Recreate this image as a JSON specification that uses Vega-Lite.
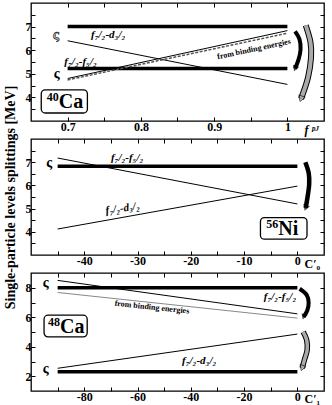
{
"$schema": "https://vega.github.io/schema/vega-lite/v6.json",
"padding": {"left": 2, "top": 1, "right": 2, "bottom": 0},
"spacing": 18,
"bounds": "flush",
"resolve": {"scale": {"x": "independent", "y": "independent"}},
"config": {
  "font": "Liberation Serif",
  "view": {"stroke": "black", "strokeWidth": 1.3},
  "axis": {"labelOverlap": false, "labelFlush": false, "domain": false, "grid": false, "tickColor": "black", "tickWidth": 1, "tickSize": -4, "labelFont": "Liberation Serif", "labelFontWeight": "bold", "labelFontSize": 12, "labelColor": "black", "labelPadding": 4, "titleFont": "Liberation Serif", "titleFontWeight": "bold", "titleColor": "black"}
},
"datasets": {
  "lines": [
    {"p": "Ca40", "s": "exp1", "k": "thick", "x": 0.7, "y": 7.0}, {"p": "Ca40", "s": "exp1", "k": "thick", "x": 1.0, "y": 7.0},
    {"p": "Ca40", "s": "exp2", "k": "thick", "x": 0.7, "y": 5.22}, {"p": "Ca40", "s": "exp2", "k": "thick", "x": 1.0, "y": 5.22},
    {"p": "Ca40", "s": "fd", "k": "thin", "x": 0.7, "y": 6.4}, {"p": "Ca40", "s": "fd", "k": "thin", "x": 1.0, "y": 4.55},
    {"p": "Ca40", "s": "ff", "k": "thin", "x": 0.7, "y": 4.8}, {"p": "Ca40", "s": "ff", "k": "thin", "x": 1.0, "y": 6.83},
    {"p": "Ca40", "s": "be", "k": "dash", "x": 0.7, "y": 4.74}, {"p": "Ca40", "s": "be", "k": "dash", "x": 1.0, "y": 6.72},
    {"p": "Ni56", "s": "exp1", "k": "thick", "x": -45, "y": 6.83}, {"p": "Ni56", "s": "exp1", "k": "thick", "x": 0, "y": 6.83},
    {"p": "Ni56", "s": "ff", "k": "thin", "x": -45, "y": 7.18}, {"p": "Ni56", "s": "ff", "k": "thin", "x": 0, "y": 5.2},
    {"p": "Ni56", "s": "fd", "k": "thin", "x": -45, "y": 4.12}, {"p": "Ni56", "s": "fd", "k": "thin", "x": 0, "y": 5.97},
    {"p": "Ca48", "s": "exp1", "k": "thick", "x": -90, "y": 8.0}, {"p": "Ca48", "s": "exp1", "k": "thick", "x": 0, "y": 8.0},
    {"p": "Ca48", "s": "exp2", "k": "thick", "x": -90, "y": 2.31}, {"p": "Ca48", "s": "exp2", "k": "thick", "x": 0, "y": 2.31},
    {"p": "Ca48", "s": "ff", "k": "thin", "x": -90, "y": 8.5}, {"p": "Ca48", "s": "ff", "k": "thin", "x": 0, "y": 6.23},
    {"p": "Ca48", "s": "be", "k": "gray", "x": -90, "y": 7.68}, {"p": "Ca48", "s": "be", "k": "gray", "x": 0, "y": 5.94},
    {"p": "Ca48", "s": "fd", "k": "thin", "x": -90, "y": 2.54}, {"p": "Ca48", "s": "fd", "k": "thin", "x": 0, "y": 4.86}
  ],
  "labels": [
    {"p": "Ca40", "id": "fd", "x": 0.732, "y": 6.63, "t": "f₇/₂-d₃/₂"},
    {"p": "Ca40", "id": "ff", "x": 0.6955, "y": 5.48, "t": "f₇/₂-f₅/₂"},
    {"p": "Ca40", "id": "be", "x": 0.9545, "y": 6.03, "t": "from binding energies"},
    {"p": "Ni56", "id": "ff", "x": -35.0, "y": 7.19, "t": "f₇/₂-f₅/₂"},
    {"p": "Ni56", "id": "fd", "x": -36.0, "y": 4.9, "t": "f₇/₂-d₃/₂"},
    {"p": "Ca48", "id": "ff", "x": -12.6, "y": 7.37, "t": "f₇/₂-f₅/₂"},
    {"p": "Ca48", "id": "fd", "x": -43.3, "y": 3.05, "t": "f₇/₂-d₃/₂"},
    {"p": "Ca48", "id": "be", "x": -54.6, "y": 6.65, "t": "from binding energies"}
  ],
  "boxes": [
    {"p": "Ca40", "a": "40", "el": "Ca", "x1": 0.664, "x2": 0.727, "y1": 4.32, "y2": 3.34, "xc": 0.688, "yc": 3.83},
    {"p": "Ni56", "a": "56", "el": "Ni", "x1": -6.93, "x2": 1.81, "y1": 4.61, "y2": 3.68, "xc": -3.6, "yc": 4.15},
    {"p": "Ca48", "a": "48", "el": "Ca", "x1": -95.1, "x2": -78.9, "y1": 6.14, "y2": 4.67, "xc": -89.1, "yc": 5.4}
  ],
  "arrows": [
    {"p": "Ca40", "id": "dark", "o": 1, "x": 1.0105, "y": 6.80}, {"p": "Ca40", "id": "dark", "o": 2, "x": 1.0166, "y": 6.46}, {"p": "Ca40", "id": "dark", "o": 3, "x": 1.018, "y": 6.03}, {"p": "Ca40", "id": "dark", "o": 4, "x": 1.0153, "y": 5.61}, {"p": "Ca40", "id": "dark", "o": 5, "x": 1.0105, "y": 5.22},
    {"p": "Ca40", "id": "light", "o": 1, "x": 1.0251, "y": 7.05}, {"p": "Ca40", "id": "light", "o": 2, "x": 1.0316, "y": 6.33}, {"p": "Ca40", "id": "light", "o": 3, "x": 1.0323, "y": 5.69}, {"p": "Ca40", "id": "light", "o": 4, "x": 1.0282, "y": 4.84}, {"p": "Ca40", "id": "light", "o": 5, "x": 1.0187, "y": 3.94},
    {"p": "Ni56", "id": "dark", "o": 1, "x": 1.5, "y": 7.0}, {"p": "Ni56", "id": "dark", "o": 2, "x": 2.13, "y": 6.53}, {"p": "Ni56", "id": "dark", "o": 3, "x": 2.22, "y": 6.06}, {"p": "Ni56", "id": "dark", "o": 4, "x": 1.94, "y": 5.54}, {"p": "Ni56", "id": "dark", "o": 5, "x": 1.56, "y": 5.03},
    {"p": "Ca48", "id": "dark", "o": 1, "x": 0.86, "y": 7.93}, {"p": "Ca48", "id": "dark", "o": 2, "x": 3.49, "y": 7.52}, {"p": "Ca48", "id": "dark", "o": 3, "x": 4.24, "y": 6.98}, {"p": "Ca48", "id": "dark", "o": 4, "x": 3.68, "y": 6.44}, {"p": "Ca48", "id": "dark", "o": 5, "x": 2.36, "y": 6.03},
    {"p": "Ca48", "id": "light", "o": 1, "x": 2.17, "y": 5.01}, {"p": "Ca48", "id": "light", "o": 2, "x": 3.49, "y": 4.46}, {"p": "Ca48", "id": "light", "o": 3, "x": 3.68, "y": 3.78}, {"p": "Ca48", "id": "light", "o": 4, "x": 2.74, "y": 3.17}, {"p": "Ca48", "id": "light", "o": 5, "x": 1.80, "y": 2.56}
  ],
  "hooks": [
    {"p": "Ca40", "id": "light", "x": 0.684, "y": 6.69},
    {"p": "Ca40", "id": "dark", "x": 0.685, "y": 5.01},
    {"p": "Ni56", "id": "dark", "x": -46.6, "y": 6.98},
    {"p": "Ca48", "id": "dark", "x": -94.5, "y": 8.29},
    {"p": "Ca48", "id": "dark", "x": -94.5, "y": 2.47}
  ]
},
"vconcat": [
  {
    "width": 293, "height": 118,
    "resolve": {"axis": {"x": "independent", "y": "independent"}},
    "layer": [
      {"data": {"name": "lines"}, "transform": [{"filter": "datum.p=='Ca40' && datum.k=='thick'"}],
       "mark": {"type": "line", "color": "black", "strokeWidth": 3.5},
       "encoding": {
         "x": {"field": "x", "type": "quantitative", "scale": {"domain": [0.65, 1.05], "nice": false, "zero": false},
               "axis": {"orient": "bottom", "values": [0.7, 0.75, 0.8, 0.85, 0.9, 0.95, 1.0], "labelExpr": "round(datum.value*100)%10==0 ? toString(datum.value) : ''", "title": "f ᵖᴶ", "titleX": 273, "titleY": 8, "titleAlign": "left", "titleBaseline": "middle", "titleAngle": 0, "titleFontStyle": "italic", "titleFontSize": 12, "titlePadding": 0}},
         "y": {"field": "y", "type": "quantitative", "scale": {"domain": [3, 8], "nice": false, "zero": false},
               "axis": {"orient": "left", "values": [3.5, 4, 4.5, 5, 5.5, 6, 6.5, 7, 7.5], "labelExpr": "datum.value%1==0 ? toString(datum.value) : ''", "title": null}},
         "detail": {"field": "s"}
       }},
      {"data": {"name": "lines"}, "transform": [{"filter": "datum.p=='Ca40' && datum.k=='thin'"}],
       "mark": {"type": "line", "color": "black", "strokeWidth": 1},
       "encoding": {"x": {"field": "x", "type": "quantitative", "axis": null}, "y": {"field": "y", "type": "quantitative", "axis": null}, "detail": {"field": "s"}}},
      {"data": {"name": "lines"}, "transform": [{"filter": "datum.p=='Ca40' && datum.k=='dash'"}],
       "mark": {"type": "line", "color": "#555555", "strokeWidth": 1.5, "strokeDash": [3, 1.5]},
       "encoding": {"x": {"field": "x", "type": "quantitative", "axis": null}, "y": {"field": "y", "type": "quantitative", "axis": null}, "detail": {"field": "s"}}},
      {"data": {"name": "boxes"}, "transform": [{"filter": "datum.p=='Ca40'"}],
       "mark": {"type": "rect", "fill": "white", "stroke": "black", "strokeWidth": 1.3, "cornerRadius": 4},
       "encoding": {
         "x": {"field": "x1", "type": "quantitative", "axis": {"orient": "top", "values": [0.7, 0.75, 0.8, 0.85, 0.9, 0.95, 1.0], "labels": false, "title": null}},
         "x2": {"field": "x2"},
         "y": {"field": "y1", "type": "quantitative", "axis": {"orient": "right", "values": [3.5, 4, 4.5, 5, 5.5, 6, 6.5, 7, 7.5], "labels": false, "title": null}},
         "y2": {"field": "y2"}
       }},
      {"data": {"name": "boxes"}, "transform": [{"filter": "datum.p=='Ca40'"}],
       "mark": {"type": "text", "fontWeight": "bold", "fontSize": 12, "align": "right", "baseline": "middle", "dy": -4},
       "encoding": {"x": {"field": "xc", "type": "quantitative", "axis": null}, "y": {"field": "yc", "type": "quantitative", "axis": null}, "text": {"field": "a"}}},
      {"data": {"name": "boxes"}, "transform": [{"filter": "datum.p=='Ca40'"}],
       "mark": {"type": "text", "fontWeight": "bold", "fontSize": 20, "align": "left", "baseline": "middle", "dy": 1},
       "encoding": {"x": {"field": "xc", "type": "quantitative", "axis": null}, "y": {"field": "yc", "type": "quantitative", "axis": null}, "text": {"field": "el"}}},
      {"data": {"name": "labels"}, "transform": [{"filter": "datum.p=='Ca40' && datum.id!='be'"}],
       "mark": {"type": "text", "fontWeight": "bold", "fontStyle": "italic", "fontSize": 11, "align": "left", "baseline": "middle"},
       "encoding": {"x": {"field": "x", "type": "quantitative", "axis": null}, "y": {"field": "y", "type": "quantitative", "axis": null}, "text": {"field": "t"}}},
      {"data": {"name": "labels"}, "transform": [{"filter": "datum.p=='Ca40' && datum.id=='be'"}],
       "mark": {"type": "text", "fontWeight": "bold", "fontSize": 8, "angle": -12, "align": "center", "baseline": "middle"},
       "encoding": {"x": {"field": "x", "type": "quantitative", "axis": null}, "y": {"field": "y", "type": "quantitative", "axis": null}, "text": {"field": "t"}}},
      {"data": {"name": "arrows"}, "transform": [{"filter": "datum.p=='Ca40' && datum.id=='dark'"}],
       "mark": {"type": "line", "color": "black", "strokeWidth": 4, "interpolate": "cardinal"},
       "encoding": {"x": {"field": "x", "type": "quantitative", "axis": null}, "y": {"field": "y", "type": "quantitative", "axis": null}, "order": {"field": "o"}}},
      {"data": {"name": "arrows"}, "transform": [{"filter": "datum.p=='Ca40' && datum.id=='light'"}],
       "mark": {"type": "line", "color": "black", "strokeWidth": 6, "interpolate": "cardinal"},
       "encoding": {"x": {"field": "x", "type": "quantitative", "axis": null}, "y": {"field": "y", "type": "quantitative", "axis": null}, "order": {"field": "o"}}},
      {"data": {"name": "arrows"}, "transform": [{"filter": "datum.p=='Ca40' && datum.id=='light'"}],
       "mark": {"type": "line", "color": "#aaaaaa", "strokeWidth": 4, "interpolate": "cardinal"},
       "encoding": {"x": {"field": "x", "type": "quantitative", "axis": null}, "y": {"field": "y", "type": "quantitative", "axis": null}, "order": {"field": "o"}}},
      {"data": {"name": "arrows"}, "transform": [{"filter": "datum.p=='Ca40' && datum.o==5 && datum.id=='dark'"}],
       "mark": {"type": "point", "shape": "triangle-down", "filled": true, "size": 45, "angle": 20, "color": "black"},
       "encoding": {"x": {"field": "x", "type": "quantitative", "axis": null}, "y": {"field": "y", "type": "quantitative", "axis": null}}},
      {"data": {"name": "arrows"}, "transform": [{"filter": "datum.p=='Ca40' && datum.o==5 && datum.id=='light'"}],
       "mark": {"type": "point", "shape": "triangle-down", "filled": true, "size": 45, "angle": 20, "fill": "#aaaaaa", "stroke": "black", "strokeWidth": 0.8},
       "encoding": {"x": {"field": "x", "type": "quantitative", "axis": null}, "y": {"field": "y", "type": "quantitative", "axis": null}}},
      {"data": {"name": "hooks"}, "transform": [{"filter": "datum.p=='Ca40' && datum.id=='dark'"}],
       "mark": {"type": "text", "text": "ς", "fontWeight": "bold", "fontSize": 14, "color": "black"},
       "encoding": {"x": {"field": "x", "type": "quantitative", "axis": null}, "y": {"field": "y", "type": "quantitative", "axis": null}}},
      {"data": {"name": "hooks"}, "transform": [{"filter": "datum.p=='Ca40' && datum.id=='light'"}],
       "mark": {"type": "text", "text": "ς", "fontWeight": "bold", "fontSize": 15, "fill": "#aaaaaa", "stroke": "black", "strokeWidth": 0.5},
       "encoding": {"x": {"field": "x", "type": "quantitative", "axis": null}, "y": {"field": "y", "type": "quantitative", "axis": null}}}
    ]
  },
  {
    "width": 293, "height": 116,
    "resolve": {"axis": {"x": "independent", "y": "independent"}},
    "layer": [
      {"data": {"name": "lines"}, "transform": [{"filter": "datum.p=='Ni56' && datum.k=='thick'"}],
       "mark": {"type": "line", "color": "black", "strokeWidth": 3.5},
       "encoding": {
         "x": {"field": "x", "type": "quantitative", "scale": {"domain": [-50, 5], "nice": false, "zero": false},
               "axis": {"orient": "bottom", "values": [-45, -40, -35, -30, -25, -20, -15, -10, -5, 0], "labelExpr": "datum.value%10==0 ? toString(datum.value) : ''", "title": "C′₀", "titleX": 273, "titleY": 8, "titleAlign": "left", "titleBaseline": "middle", "titleAngle": 0, "titleFontSize": 12, "titlePadding": 0}},
         "y": {"field": "y", "type": "quantitative", "scale": {"domain": [3, 8], "nice": false, "zero": false},
               "axis": {"orient": "left", "values": [3.5, 4, 4.5, 5, 5.5, 6, 6.5, 7, 7.5], "labelExpr": "datum.value%1==0 ? toString(datum.value) : ''", "title": "Single-particle levels splittings [MeV]", "titleFontSize": 14, "titlePadding": 8}},
         "detail": {"field": "s"}
       }},
      {"data": {"name": "lines"}, "transform": [{"filter": "datum.p=='Ni56' && datum.k=='thin'"}],
       "mark": {"type": "line", "color": "black", "strokeWidth": 1},
       "encoding": {"x": {"field": "x", "type": "quantitative", "axis": null}, "y": {"field": "y", "type": "quantitative", "axis": null}, "detail": {"field": "s"}}},
      {"data": {"name": "boxes"}, "transform": [{"filter": "datum.p=='Ni56'"}],
       "mark": {"type": "rect", "fill": "white", "stroke": "black", "strokeWidth": 1.3, "cornerRadius": 4},
       "encoding": {
         "x": {"field": "x1", "type": "quantitative", "axis": {"orient": "top", "values": [-45, -40, -35, -30, -25, -20, -15, -10, -5, 0], "labels": false, "title": null}},
         "x2": {"field": "x2"},
         "y": {"field": "y1", "type": "quantitative", "axis": {"orient": "right", "values": [3.5, 4, 4.5, 5, 5.5, 6, 6.5, 7, 7.5], "labels": false, "title": null}},
         "y2": {"field": "y2"}
       }},
      {"data": {"name": "boxes"}, "transform": [{"filter": "datum.p=='Ni56'"}],
       "mark": {"type": "text", "fontWeight": "bold", "fontSize": 12, "align": "right", "baseline": "middle", "dy": -4},
       "encoding": {"x": {"field": "xc", "type": "quantitative", "axis": null}, "y": {"field": "yc", "type": "quantitative", "axis": null}, "text": {"field": "a"}}},
      {"data": {"name": "boxes"}, "transform": [{"filter": "datum.p=='Ni56'"}],
       "mark": {"type": "text", "fontWeight": "bold", "fontSize": 20, "align": "left", "baseline": "middle", "dy": 1},
       "encoding": {"x": {"field": "xc", "type": "quantitative", "axis": null}, "y": {"field": "yc", "type": "quantitative", "axis": null}, "text": {"field": "el"}}},
      {"data": {"name": "labels"}, "transform": [{"filter": "datum.p=='Ni56' && datum.id=='ff'"}],
       "mark": {"type": "text", "fontWeight": "bold", "fontStyle": "italic", "fontSize": 11, "align": "left", "baseline": "middle"},
       "encoding": {"x": {"field": "x", "type": "quantitative", "axis": null}, "y": {"field": "y", "type": "quantitative", "axis": null}, "text": {"field": "t"}}},
      {"data": {"name": "labels"}, "transform": [{"filter": "datum.p=='Ni56' && datum.id=='fd'"}],
       "mark": {"type": "text", "fontWeight": "bold", "fontStyle": "italic", "fontSize": 11, "align": "left", "baseline": "middle", "angle": -8},
       "encoding": {"x": {"field": "x", "type": "quantitative", "axis": null}, "y": {"field": "y", "type": "quantitative", "axis": null}, "text": {"field": "t"}}},
      {"data": {"name": "arrows"}, "transform": [{"filter": "datum.p=='Ni56' && datum.id=='dark'"}],
       "mark": {"type": "line", "color": "black", "strokeWidth": 4.5, "interpolate": "cardinal"},
       "encoding": {"x": {"field": "x", "type": "quantitative", "axis": null}, "y": {"field": "y", "type": "quantitative", "axis": null}, "order": {"field": "o"}}},
      {"data": {"name": "arrows"}, "transform": [{"filter": "datum.p=='Ni56' && datum.o==5"}],
       "mark": {"type": "point", "shape": "triangle-down", "filled": true, "size": 50, "angle": 20, "color": "black"},
       "encoding": {"x": {"field": "x", "type": "quantitative", "axis": null}, "y": {"field": "y", "type": "quantitative", "axis": null}}},
      {"data": {"name": "hooks"}, "transform": [{"filter": "datum.p=='Ni56'"}],
       "mark": {"type": "text", "text": "ς", "fontWeight": "bold", "fontSize": 14, "color": "black"},
       "encoding": {"x": {"field": "x", "type": "quantitative", "axis": null}, "y": {"field": "y", "type": "quantitative", "axis": null}}}
    ]
  },
  {
    "width": 293, "height": 118,
    "resolve": {"axis": {"x": "independent", "y": "independent"}},
    "layer": [
      {"data": {"name": "lines"}, "transform": [{"filter": "datum.p=='Ca48' && datum.k=='thick'"}],
       "mark": {"type": "line", "color": "black", "strokeWidth": 3.5},
       "encoding": {
         "x": {"field": "x", "type": "quantitative", "scale": {"domain": [-100, 10], "nice": false, "zero": false},
               "axis": {"orient": "bottom", "values": [-90, -80, -70, -60, -50, -40, -30, -20, -10, 0], "labelExpr": "datum.value%20==0 ? toString(datum.value) : ''", "title": "C′₁", "titleX": 273, "titleY": 7, "titleAlign": "left", "titleBaseline": "middle", "titleAngle": 0, "titleFontSize": 12, "titlePadding": 0}},
         "y": {"field": "y", "type": "quantitative", "scale": {"domain": [1, 9], "nice": false, "zero": false},
               "axis": {"orient": "left", "values": [2, 3, 4, 5, 6, 7, 8], "labelExpr": "datum.value%2==0 ? toString(datum.value) : ''", "title": null}},
         "detail": {"field": "s"}
       }},
      {"data": {"name": "lines"}, "transform": [{"filter": "datum.p=='Ca48' && datum.k=='thin'"}],
       "mark": {"type": "line", "color": "black", "strokeWidth": 1},
       "encoding": {"x": {"field": "x", "type": "quantitative", "axis": null}, "y": {"field": "y", "type": "quantitative", "axis": null}, "detail": {"field": "s"}}},
      {"data": {"name": "lines"}, "transform": [{"filter": "datum.p=='Ca48' && datum.k=='gray'"}],
       "mark": {"type": "line", "color": "#888888", "strokeWidth": 1},
       "encoding": {"x": {"field": "x", "type": "quantitative", "axis": null}, "y": {"field": "y", "type": "quantitative", "axis": null}, "detail": {"field": "s"}}},
      {"data": {"name": "boxes"}, "transform": [{"filter": "datum.p=='Ca48'"}],
       "mark": {"type": "rect", "fill": "white", "stroke": "black", "strokeWidth": 1.3, "cornerRadius": 4},
       "encoding": {
         "x": {"field": "x1", "type": "quantitative", "axis": {"orient": "top", "values": [-90, -80, -70, -60, -50, -40, -30, -20, -10, 0], "labels": false, "title": null}},
         "x2": {"field": "x2"},
         "y": {"field": "y1", "type": "quantitative", "axis": {"orient": "right", "values": [2, 3, 4, 5, 6, 7, 8], "labels": false, "title": null}},
         "y2": {"field": "y2"}
       }},
      {"data": {"name": "boxes"}, "transform": [{"filter": "datum.p=='Ca48'"}],
       "mark": {"type": "text", "fontWeight": "bold", "fontSize": 12, "align": "right", "baseline": "middle", "dy": -4},
       "encoding": {"x": {"field": "xc", "type": "quantitative", "axis": null}, "y": {"field": "yc", "type": "quantitative", "axis": null}, "text": {"field": "a"}}},
      {"data": {"name": "boxes"}, "transform": [{"filter": "datum.p=='Ca48'"}],
       "mark": {"type": "text", "fontWeight": "bold", "fontSize": 20, "align": "left", "baseline": "middle", "dy": 1},
       "encoding": {"x": {"field": "xc", "type": "quantitative", "axis": null}, "y": {"field": "yc", "type": "quantitative", "axis": null}, "text": {"field": "el"}}},
      {"data": {"name": "labels"}, "transform": [{"filter": "datum.p=='Ca48' && datum.id!='be'"}],
       "mark": {"type": "text", "fontWeight": "bold", "fontStyle": "italic", "fontSize": 11, "align": "left", "baseline": "middle"},
       "encoding": {"x": {"field": "x", "type": "quantitative", "axis": null}, "y": {"field": "y", "type": "quantitative", "axis": null}, "text": {"field": "t"}}},
      {"data": {"name": "labels"}, "transform": [{"filter": "datum.p=='Ca48' && datum.id=='be'"}],
       "mark": {"type": "text", "fontWeight": "bold", "fontSize": 8, "angle": 6, "align": "center", "baseline": "middle"},
       "encoding": {"x": {"field": "x", "type": "quantitative", "axis": null}, "y": {"field": "y", "type": "quantitative", "axis": null}, "text": {"field": "t"}}},
      {"data": {"name": "arrows"}, "transform": [{"filter": "datum.p=='Ca48' && datum.id=='dark'"}],
       "mark": {"type": "line", "color": "black", "strokeWidth": 4, "interpolate": "cardinal"},
       "encoding": {"x": {"field": "x", "type": "quantitative", "axis": null}, "y": {"field": "y", "type": "quantitative", "axis": null}, "order": {"field": "o"}}},
      {"data": {"name": "arrows"}, "transform": [{"filter": "datum.p=='Ca48' && datum.id=='light'"}],
       "mark": {"type": "line", "color": "black", "strokeWidth": 5.5, "interpolate": "cardinal"},
       "encoding": {"x": {"field": "x", "type": "quantitative", "axis": null}, "y": {"field": "y", "type": "quantitative", "axis": null}, "order": {"field": "o"}}},
      {"data": {"name": "arrows"}, "transform": [{"filter": "datum.p=='Ca48' && datum.id=='light'"}],
       "mark": {"type": "line", "color": "#aaaaaa", "strokeWidth": 3.5, "interpolate": "cardinal"},
       "encoding": {"x": {"field": "x", "type": "quantitative", "axis": null}, "y": {"field": "y", "type": "quantitative", "axis": null}, "order": {"field": "o"}}},
      {"data": {"name": "arrows"}, "transform": [{"filter": "datum.p=='Ca48' && datum.o==5 && datum.id=='dark'"}],
       "mark": {"type": "point", "shape": "triangle-down", "filled": true, "size": 40, "angle": 20, "color": "black"},
       "encoding": {"x": {"field": "x", "type": "quantitative", "axis": null}, "y": {"field": "y", "type": "quantitative", "axis": null}}},
      {"data": {"name": "arrows"}, "transform": [{"filter": "datum.p=='Ca48' && datum.o==5 && datum.id=='light'"}],
       "mark": {"type": "point", "shape": "triangle-down", "filled": true, "size": 40, "angle": 20, "fill": "#aaaaaa", "stroke": "black", "strokeWidth": 0.8},
       "encoding": {"x": {"field": "x", "type": "quantitative", "axis": null}, "y": {"field": "y", "type": "quantitative", "axis": null}}},
      {"data": {"name": "hooks"}, "transform": [{"filter": "datum.p=='Ca48'"}],
       "mark": {"type": "text", "text": "ς", "fontWeight": "bold", "fontSize": 14, "color": "black"},
       "encoding": {"x": {"field": "x", "type": "quantitative", "axis": null}, "y": {"field": "y", "type": "quantitative", "axis": null}}}
    ]
  }
]
}
